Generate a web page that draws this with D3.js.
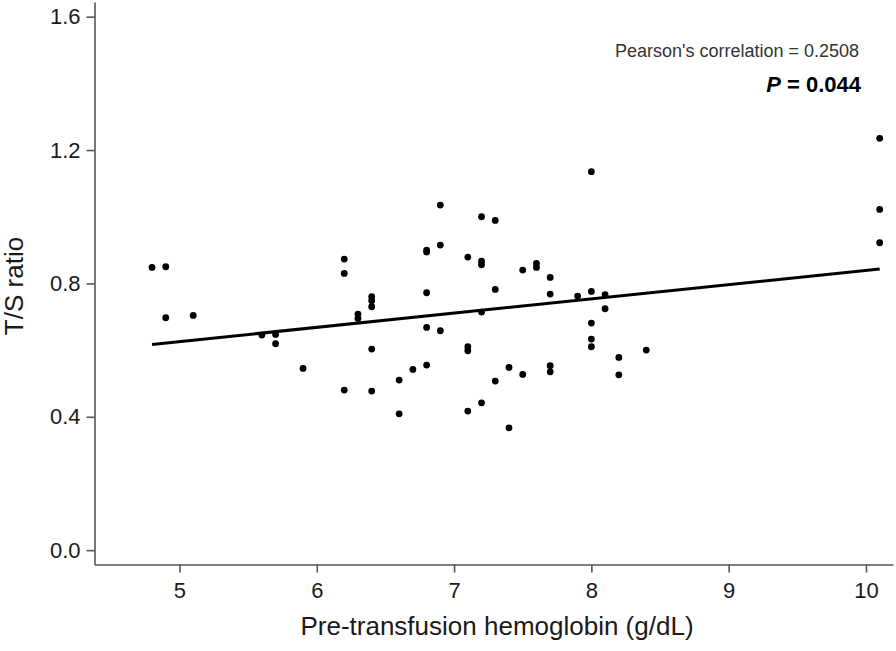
<!DOCTYPE html>
<html>
<head>
<meta charset="utf-8">
<script src="https://cdn.jsdelivr.net/npm/d3@7"></script>
<style>
  html, body { margin: 0; padding: 0; background: #fff; }
  svg { display: block; font-family: Arial, "Liberation Sans", sans-serif; }
</style>
</head>
<body>
<div id="chart"></div>
<script>
// hemoglobin (g/dL) and T/S ratio
const hemoglobin = [
  4.8, 4.9, 4.9, 5.1, 5.6, 5.7, 5.7, 5.9, 6.2, 6.2, 6.2, 6.3, 6.3,
  6.4, 6.4, 6.4, 6.4, 6.4, 6.6, 6.6, 6.7, 6.8, 6.8, 6.8, 6.8, 6.8,
  6.9, 6.9, 6.9, 7.1, 7.1, 7.1, 7.1, 7.2, 7.2, 7.2, 7.2, 7.2, 7.3,
  7.3, 7.3, 7.4, 7.4, 7.5, 7.5, 7.6, 7.6, 7.7, 7.7, 7.7, 7.7, 7.9,
  8.0, 8.0, 8.0, 8.0, 8.0, 8.1, 8.1, 8.2, 8.2, 8.4, 10.1, 10.1, 10.1
];
const tsRatio = [
  0.848, 0.850, 0.697, 0.704, 0.645, 0.647, 0.619, 0.545, 0.873, 0.830, 0.480, 0.708, 0.695,
  0.760, 0.748, 0.730, 0.603, 0.477, 0.510, 0.409, 0.542, 0.900, 0.894, 0.772, 0.668, 0.555,
  1.035, 0.915, 0.658, 0.879, 0.610, 0.598, 0.417, 1.000, 0.867, 0.856, 0.714, 0.442, 0.989,
  0.782, 0.507, 0.548, 0.367, 0.840, 0.527, 0.860, 0.848, 0.818, 0.768, 0.553, 0.535, 0.762,
  1.135, 0.776, 0.681, 0.633, 0.610, 0.766, 0.724, 0.578, 0.526, 0.600, 1.235, 1.022, 0.922
];

// fitted line end points
const fitX = [4.8, 10.1];
const fitY = [0.617, 0.843];

const xTicks = [5, 6, 7, 8, 9, 10];
const yTicks = [0, 0.4, 0.8, 1.2, 1.6];

const width = 896;
const height = 651;
const plotLeft = 94.5, plotRight = 893, plotTop = 2, plotBottom = 564.5;

const svg = d3.select('#chart').append('svg')
  .attr('width', width)
  .attr('height', height);

const x = d3.scaleLinear().domain([4.381, 10.197]).range([plotLeft, plotRight]);
const y = d3.scaleLinear().domain([-0.043, 1.644]).range([plotBottom, plotTop]);

const axisColor = '#555';

// axes
const xAxis = svg.append('g')
  .attr('transform', `translate(0,${plotBottom})`)
  .call(d3.axisBottom(x).tickValues(xTicks).tickSize(8).tickPadding(10).tickSizeOuter(0)
    .tickFormat(d3.format('d')));

const yAxis = svg.append('g')
  .attr('transform', `translate(${plotLeft},0)`)
  .call(d3.axisLeft(y).tickValues(yTicks).tickSize(8).tickPadding(6).tickSizeOuter(0)
    .tickFormat(d3.format('.1f')));

[xAxis, yAxis].forEach((g) => {
  g.select('.domain').attr('stroke', axisColor).attr('stroke-width', 1.6);
  g.selectAll('.tick line').attr('stroke', axisColor).attr('stroke-width', 1.6);
  g.selectAll('.tick text')
    .attr('fill', '#1a1a1a')
    .style('font-size', '22px')
    .style('font-family', 'Arial, "Liberation Sans", sans-serif');
});

// axis titles
svg.append('text')
  .attr('x', 497)
  .attr('y', 635)
  .attr('text-anchor', 'middle')
  .attr('fill', '#1a1a1a')
  .style('font-size', '26px')
  .text('Pre-transfusion hemoglobin (g/dL)');

svg.append('text')
  .attr('transform', `translate(23,${286}) rotate(-90)`)
  .attr('text-anchor', 'middle')
  .attr('fill', '#1a1a1a')
  .style('font-size', '26px')
  .text('T/S ratio');

// regression line
svg.append('line')
  .attr('x1', x(fitX[0]))
  .attr('y1', y(fitY[0]))
  .attr('x2', x(fitX[1]))
  .attr('y2', y(fitY[1]))
  .attr('stroke', '#000')
  .attr('stroke-width', 3);

// points
const points = hemoglobin.map((h, i) => ({ h, ts: tsRatio[i] }));
svg.append('g')
  .selectAll('circle')
  .data(points)
  .enter().append('circle')
  .attr('cx', (d) => x(d.h))
  .attr('cy', (d) => y(d.ts))
  .attr('r', 3.4)
  .attr('fill', '#000');

// annotation
svg.append('text')
  .attr('x', 859)
  .attr('y', 56.5)
  .attr('text-anchor', 'end')
  .attr('fill', '#333')
  .style('font-size', '18px')
  .text("Pearson's correlation = 0.2508");

const pText = svg.append('text')
  .attr('x', 861)
  .attr('y', 91.5)
  .attr('text-anchor', 'end')
  .attr('fill', '#000')
  .style('font-size', '22px')
  .style('font-weight', 'bold');
pText.append('tspan').style('font-style', 'italic').text('P');
pText.append('tspan').text(' = 0.044');
</script>
</body>
</html>
